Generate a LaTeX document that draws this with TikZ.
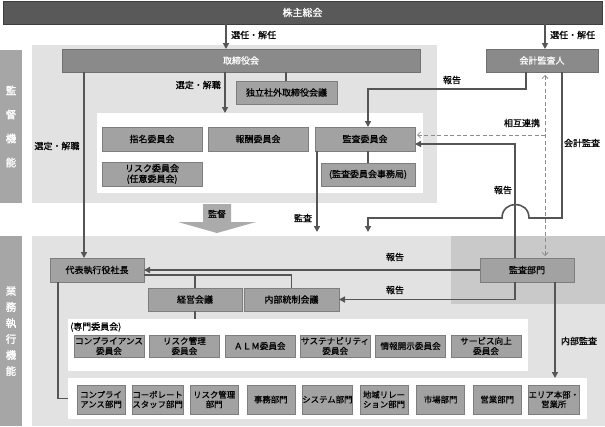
\documentclass[tikz,border=0pt]{standalone}
\usepackage{fontspec}
\setmainfont{Noto Sans CJK JP}[FakeBold=0.6]
\newfontfamily\sidefont{Noto Sans CJK JP}[FakeBold=1.6]
\usetikzlibrary{arrows.meta,calc}
\definecolor{cDark}{HTML}{595959}
\definecolor{cMid}{HTML}{8A8A8A}
\definecolor{cBox}{HTML}{A2A2A2}
\definecolor{cArea}{HTML}{E2E2E2}
\definecolor{cAud}{HTML}{C9C9C9}
\definecolor{cLine}{HTML}{555555}
\definecolor{cLab}{HTML}{A6A6A6}
\definecolor{cDash}{HTML}{8C8C8C}
\definecolor{cBig}{HTML}{ABABAB}
\newcommand\bx[7][]{%
  \pgfmathsetmacro\bxw{#5-#3}%
  \pgfmathsetmacro\bxh{#6-#4}%
  \node[inner sep=0pt,outer sep=0pt,minimum width=\bxw pt,minimum height=\bxh pt,#1] (#2) at ({(#3+#5)/2},{(#4+#6)/2}) {#7};}
\begin{document}
\begin{tikzpicture}[x=1pt,y=-1pt,
  every node/.style={font=\fontsize{9}{10.5}\selectfont},
  areabg/.style={fill=cArea},
  audarea/.style={fill=cAud},
  whitebg/.style={fill=white},
  sidelab/.style={fill=cLab, text=white, align=center},
  gbox/.style={draw=cBox!78!black, line width=0.6pt, fill=cBox, align=center},
  mbar/.style={draw=cMid!82!black, line width=0.6pt, fill=cMid, text=white},
  dbar/.style={draw=cDark!70!black, line width=0.8pt, fill=cDark, text=white, font=\fontsize{10}{12}\selectfont},
  arr/.style={draw=cLine, line width=1.6pt, -{Triangle[length=6pt,width=6pt]}},
  ln/.style={draw=cLine, line width=1.6pt},
  dsh/.style={draw=cDash, line width=0.8pt, dash pattern=on 4pt off 2.5pt},
  dtip/.style={{Straight Barb[length=3pt,width=6pt]}-{Straight Barb[length=3pt,width=6pt]}},
  lbl/.style={inner sep=0pt},
  combox/.style={gbox, font=\fontsize{8.6}{10}\selectfont},
  depbox/.style={gbox, font=\fontsize{8.4}{9.6}\selectfont},
]
\useasboundingbox (0,0) rectangle (605,426);
\fill[white] (0,0) rectangle (605,426);
% ---------- areas
\bx[areabg]{supA}{32}{45}{437}{203}{}
\bx[whitebg]{supW}{97}{113}{423}{193}{}
\bx[sidelab,font=\sidefont\fontsize{10.5}{24}\selectfont]{supL}{0}{50}{22}{203}{監\\督\\機\\能}
\bx[areabg]{exeA}{32}{236}{605}{426}{}
\bx[audarea]{audA}{451}{236}{605}{304}{}
\bx[sidelab,font=\sidefont\fontsize{10.5}{16}\selectfont]{exeL}{0}{236}{22}{426}{業\\務\\執\\行\\機\\能}
\bx[whitebg]{comW}{68}{319}{528}{371}{}
\bx[whitebg]{depW}{68}{378}{587}{419}{}
% ---------- main nodes
\bx[dbar]{sh}{3}{1}{602}{24}{株主総会}
\bx[mbar]{tori}{62}{49}{420}{72}{取締役会}
\bx[mbar]{kaik}{486}{49}{598}{72}{会計監査人}
\bx[gbox]{doku}{236}{81}{337}{104}{独立社外取締役会議}
\bx[gbox]{shimei}{102}{127}{202}{151}{指名委員会}
\bx[gbox]{hoshu}{208}{127}{308}{151}{報酬委員会}
\bx[gbox]{kansa}{315}{127}{415}{151}{監査委員会}
\bx[gbox]{risk}{102}{162}{202}{186}{リスク委員会\\(任意委員会)}
\bx[gbox]{jimu}{321}{163}{415}{186}{(監査委員会事務局)}
\bx[gbox]{ceo}{50}{258}{144}{282}{代表執行役社長}
\bx[gbox]{keiei}{148}{288}{242}{311}{経営会議}
\bx[gbox]{naibu}{244}{288}{339}{311}{内部統制会議}
\bx[gbox]{kbu}{480}{258}{574}{282}{監査部門}
% committees
\bx[combox]{c1}{74}{335}{144}{357}{コンプライアンス\\委員会}
\bx[combox]{c2}{149.4}{335}{219.4}{357}{リスク管理\\委員会}
\bx[combox]{c3}{224.8}{335}{294.8}{357}{ＡＬＭ委員会}
\bx[combox]{c4}{300.2}{335}{370.2}{357}{サステナビリティ\\委員会}
\bx[combox]{c5}{375.6}{335}{445.6}{357}{情報開示委員会}
\bx[combox]{c6}{451}{335}{521}{357}{サービス向上\\委員会}
\node[lbl,anchor=west] (senmon) at (70,327) {(専門委員会)};
% departments
\bx[depbox]{d1}{77}{385}{125}{414}{コンプライ\\アンス部門}
\bx[depbox]{d2}{133.6}{385}{181.6}{414}{コーポレート\\スタッフ部門}
\bx[depbox]{d3}{190.2}{385}{238.2}{414}{リスク管理\\部門}
\bx[depbox]{d4}{246.8}{385}{294.8}{414}{事務部門}
\bx[depbox]{d5}{303.4}{385}{351.4}{414}{システム部門}
\bx[depbox]{d6}{360}{385}{408}{414}{地域リレー\\ション部門}
\bx[depbox]{d7}{416.6}{385}{464.6}{414}{市場部門}
\bx[depbox]{d8}{473.2}{385}{521.2}{414}{営業部門}
\bx[depbox]{d9}{529.8}{385}{577.8}{414}{エリア本部・\\営業所}
% ---------- helper coordinates
\coordinate (xa) at (226,0);
\coordinate (xb) at (545,0);
\coordinate (xs) at (225,0);
\coordinate (xd) at (286,0);
\coordinate (xc) at (84,0);
\coordinate (r1) at (526,89);
\coordinate (xk) at (368,0);
\coordinate (ka) at (562,218);
\coordinate (h1) at (529,218);
\coordinate (h2) at (502,218);
\coordinate (r2) at (515,144);
\coordinate (dm) at (545,135);
\coordinate (xq) at (317,0);
\coordinate (cd) at (58,0);
\coordinate (xi) at (555,0);
\coordinate (cc) at ([yshift=-5pt]ceo.east);
% ---------- connectors
\draw[arr] (sh.south -| xa) -- (tori.north -| xa);
\draw[arr] (sh.south -| xb) -- (kaik.north -| xb);
\draw[arr] (tori.south -| xs) -- (supW.north -| xs);
\draw[ln] (tori.south -| xd) -- (doku.north -| xd);
\draw[arr] (tori.south -| xc) -- (ceo.north -| xc);
\draw[arr] (kaik.south -| r1) -- (r1) -| (kansa.north -| xk);
\draw[ln] (kansa.south -| xk) -- (jimu.north -| xk);
\draw[arr] (kaik.south -| ka) -- (ka) -- (h1) .. controls ($(h1)+(0,-18)$) and ($(h2)+(0,-18)$) .. (h2) -| ([yshift=4pt]exeA.north -| xk);
\draw[arr] (kbu.north -| r2) -- (r2) -- (kansa.east |- r2);
\draw[dsh,dtip] ([yshift=-3pt]kaik.south -| xb) -- ([yshift=2pt]kbu.north -| xb);
\draw[dsh,-{Straight Barb[length=3pt,width=6pt]}] (dm) -- ([xshift=2pt]kansa.east |- dm);
\draw[arr] (kansa.south -| xq) -- ([yshift=4pt]exeA.north -| xq);
\draw[arr] (kbu.west) -- (ceo.east);
\draw[arr] (kbu.south -| r2) |- (naibu.east);
\draw[ln] (cc) -| (naibu.north);
\draw[ln] (keiei.north) -- (keiei.north |- cc);
\draw[ln] (keiei.south) -- (keiei.south |- comW.north);
\draw[ln] (ceo.south -| cd) |- (depW.west);
\draw[arr] (kbu.south -| xi) -- (depW.north -| xi);
% big arrow
\fill[cBig] (203,204) -- (231,204) -- (231,222) -- (256,222) -- (217,233) -- (178,222) -- (203,222) -- cycle;
\node[lbl] (kantoku) at (217,214) {監督};
% ---------- labels
\node[lbl,anchor=west] (l1) at (231,35) {選任・解任};
\node[lbl,anchor=west] (l2) at (550,35) {選任・解任};
\node[lbl,anchor=east] (l3) at (221,85) {選定・解職};
\node[lbl] (l4) at (57,146) {選定・解職};
\node[lbl] (l5) at (452,80) {報告};
\node[lbl] (l6) at (522,123) {相互連携};
\node[lbl] (l7) at (582,143) {会計監査};
\node[lbl] (l8) at (503,190) {報告};
\node[lbl] (l9) at (303,218) {監査};
\node[lbl] (l10) at (395,257) {報告};
\node[lbl] (l11) at (395,290) {報告};
\node[lbl] (l12) at (579,341) {内部監査};
\end{tikzpicture}
\end{document}
